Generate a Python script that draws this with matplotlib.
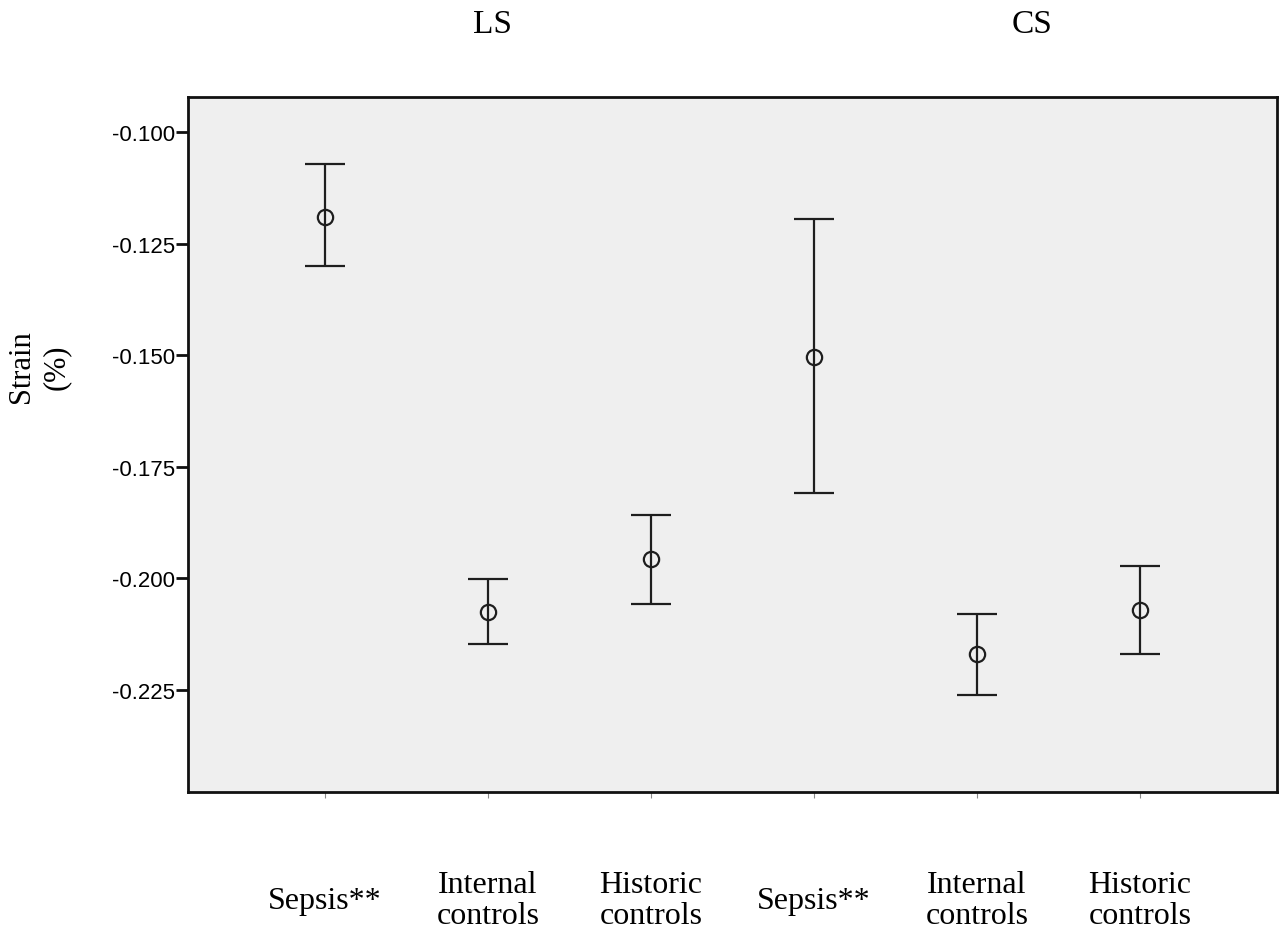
import matplotlib
matplotlib.use("Agg")
import matplotlib.pyplot as plt
import numpy as np

categories = ["Sepsis**", "Internal\ncontrols", "Historic\ncontrols",
              "Sepsis**", "Internal\ncontrols", "Historic\ncontrols"]
means = [-0.1190, -0.2075, -0.1957, -0.1503, -0.2170, -0.2071]
upper = [-0.1073, -0.2002, -0.1857, -0.1196, -0.2079, -0.1973]
lower = [-0.1301, -0.2147, -0.2057, -0.1809, -0.2260, -0.2168]
yticks = [-0.100, -0.125, -0.150, -0.175, -0.200, -0.225]
group_labels = ["LS", "CS"]
group_label_x = [1.03, 4.34]

serif = ["Liberation Serif", "DejaVu Serif"]
sans = ["Liberation Sans", "DejaVu Sans"]

fig = plt.figure(figsize=(12.86, 9.37), dpi=100)
ax = fig.add_axes([0.1462, 0.1537, 0.8468, 0.7417])
ax.set_facecolor("#efefef")

x = np.arange(len(categories))
m = np.array(means)
yerr = np.vstack([m - np.array(lower), np.array(upper) - m])
ax.errorbar(x, m, yerr=yerr, fmt="o", color="#1e1e1e", ecolor="#1e1e1e",
            elinewidth=1.6, capsize=14.6, capthick=1.9,
            markersize=11, markerfacecolor="none", markeredgewidth=1.6,
            markeredgecolor="#1e1e1e")

ax.set_xlim(-0.84, 5.84)
ax.set_ylim(-0.2478, -0.0922)
ax.set_yticks(yticks)
ax.set_yticklabels([f"{v:.3f}" for v in yticks], fontfamily=sans, fontsize=16)
ax.tick_params(axis="y", length=8.5, width=2, color="#111111", pad=1)

ax.set_xticks(x)
ax.set_xticklabels(categories, fontfamily=serif, fontsize=23, linespacing=1.1)
ax.tick_params(axis="x", length=4, width=0.8, color="#888888", pad=74)
for lbl in ax.get_xticklabels():
    lbl.set_va("center")

for s in ax.spines.values():
    s.set_linewidth(2)
    s.set_color("#111111")

ax.set_ylabel("Strain\n(%)", fontfamily=serif, fontsize=22, linespacing=1.25)
ax.yaxis.set_label_coords(-0.108, 0.613)

for lab, gx in zip(group_labels, group_label_x):
    ax.text(gx, 1.105, lab, transform=ax.get_xaxis_transform(),
            ha="center", va="center", fontfamily=serif, fontsize=24)

fig.savefig("out.png", dpi=100)
